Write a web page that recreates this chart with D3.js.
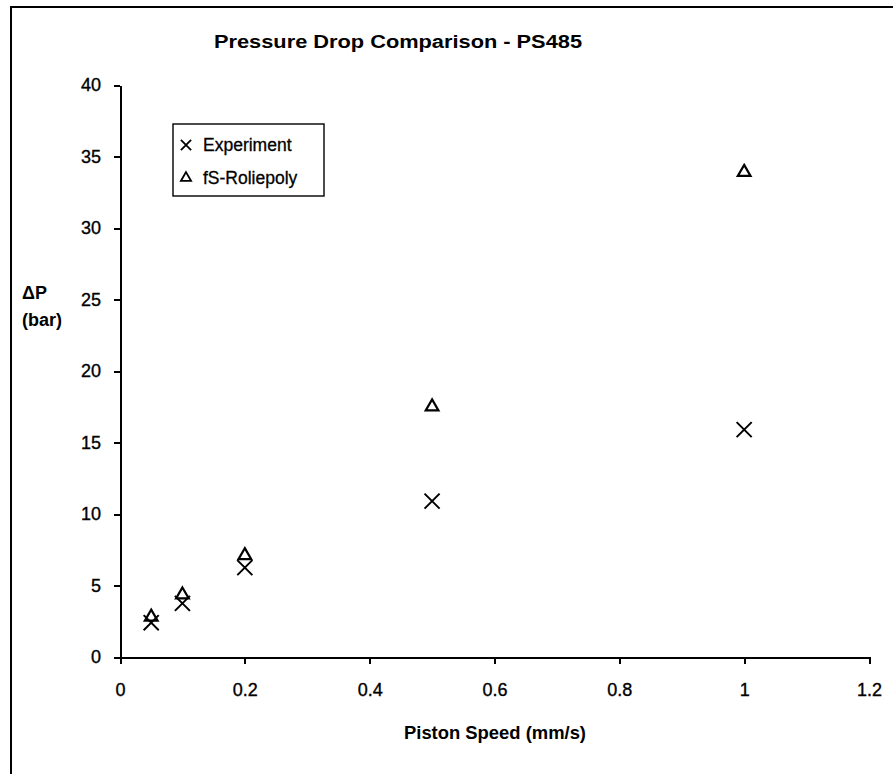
<!DOCTYPE html>
<html lang="en">
<head>
<meta charset="UTF-8">
<title>Pressure Drop Comparison - PS485</title>
<script src="https://d3js.org/d3.v7.min.js"></script>
<style>
    body { margin: 0; background: #fff; font-family: "Liberation Sans", Arial, sans-serif; }
    .axis text { font-size: 18px; fill: #000; stroke: #000; stroke-width: 0.35; font-family: "Liberation Sans", Arial, sans-serif; }
    .axis path, .axis line { stroke: #000; stroke-width: 2; shape-rendering: crispEdges; }
</style>
</head>
<body>
<div id="chart"></div>
<script>
// piston speed (mm/s)
const speeds = [0.05, 0.1, 0.2, 0.5, 1.0];
// pressure drop (bar)
const experiment = [2.4, 3.75, 6.25, 10.9, 15.9];
const roliepoly = [2.8, 4.35, 7.1, 17.5, 33.9];
const xTicks = [0, 0.2, 0.4, 0.6, 0.8, 1, 1.2];
const yTicks = [0, 5, 10, 15, 20, 25, 30, 35, 40];

const W = 893, H = 774;
const margin = { top: 85, left: 120, right: 24, bottom: 117 };

const svg = d3.select("#chart").append("svg")
    .attr("width", W)
    .attr("height", H);

// outer frame (left and top edges only are visible)
svg.append("path")
    .attr("d", "M11," + H + " V7 H" + W)
    .attr("fill", "none")
    .attr("stroke", "#000")
    .attr("stroke-width", 2);

const x = d3.scaleLinear().domain([0, 1.2]).range([margin.left, W - margin.right]);
const y = d3.scaleLinear().domain([0, 40]).range([H - margin.bottom, margin.top]);

svg.append("g")
    .attr("class", "axis")
    .attr("transform", "translate(0," + y(0) + ")")
    .call(d3.axisBottom(x).tickValues(xTicks).tickSize(7).tickSizeOuter(0).tickPadding(19)
        .tickFormat(d => d3.format("")(d)));

svg.append("g")
    .attr("class", "axis")
    .attr("transform", "translate(" + x(0) + ",0)")
    .call(d3.axisLeft(y).tickValues(yTicks).tickSize(6).tickSizeOuter(0).tickPadding(13));

svg.append("text")
    .attr("x", 398)
    .attr("y", 48)
    .attr("text-anchor", "middle")
    .attr("font-weight", "bold")
    .attr("font-size", 18)
    .attr("textLength", 368)
    .attr("lengthAdjust", "spacingAndGlyphs")
    .text("Pressure Drop Comparison - PS485");

svg.append("text")
    .attr("x", 495)
    .attr("y", 739)
    .attr("text-anchor", "middle")
    .attr("font-weight", "bold")
    .attr("font-size", 18)
    .attr("textLength", 182)
    .attr("lengthAdjust", "spacingAndGlyphs")
    .text("Piston Speed (mm/s)");

const yLab = svg.append("text")
    .attr("font-weight", "bold")
    .attr("font-size", 18);
yLab.append("tspan").attr("x", 22).attr("y", 299).text("\u0394P");
yLab.append("tspan").attr("x", 22).attr("y", 326).text("(bar)");

const cross = d3.symbol().type(d3.symbolX).size(150);
const tri = d3.symbol().type(d3.symbolTriangle).size(70);

const pts = svg.append("g");
pts.selectAll(".tri")
    .data(speeds)
    .enter().append("path")
    .attr("class", "tri")
    .attr("d", tri)
    .attr("transform", (d, i) => "translate(" + x(d) + "," + y(roliepoly[i]) + ")")
    .attr("fill", "none")
    .attr("stroke", "#000")
    .attr("stroke-width", 2.2);

pts.selectAll(".cross")
    .data(speeds)
    .enter().append("path")
    .attr("class", "cross")
    .attr("d", cross)
    .attr("transform", (d, i) => "translate(" + x(d) + "," + y(experiment[i]) + ")")
    .attr("fill", "none")
    .attr("stroke", "#000")
    .attr("stroke-width", 2);

// legend
const leg = svg.append("g").attr("transform", "translate(173,124)");
leg.append("rect")
    .attr("width", 151)
    .attr("height", 72)
    .attr("fill", "#fff")
    .attr("stroke", "#000")
    .attr("stroke-width", 1.4);

const legItems = [
    { name: "Experiment", sym: d3.symbol().type(d3.symbolX).size(70) },
    { name: "fS-Roliepoly", sym: d3.symbol().type(d3.symbolTriangle).size(45) }
];
legItems.forEach((it, i) => {
    const row = leg.append("g").attr("transform", "translate(13," + (21 + i * 33) + ")");
    row.append("path").attr("d", it.sym()).attr("fill", "none").attr("stroke", "#000").attr("stroke-width", 1.8);
    row.append("text")
        .attr("x", 17)
        .attr("y", 6)
        .attr("font-size", 17.5)
        .attr("stroke", "#000")
        .attr("stroke-width", 0.3)
        .text(it.name);
});
</script>
</body>
</html>
